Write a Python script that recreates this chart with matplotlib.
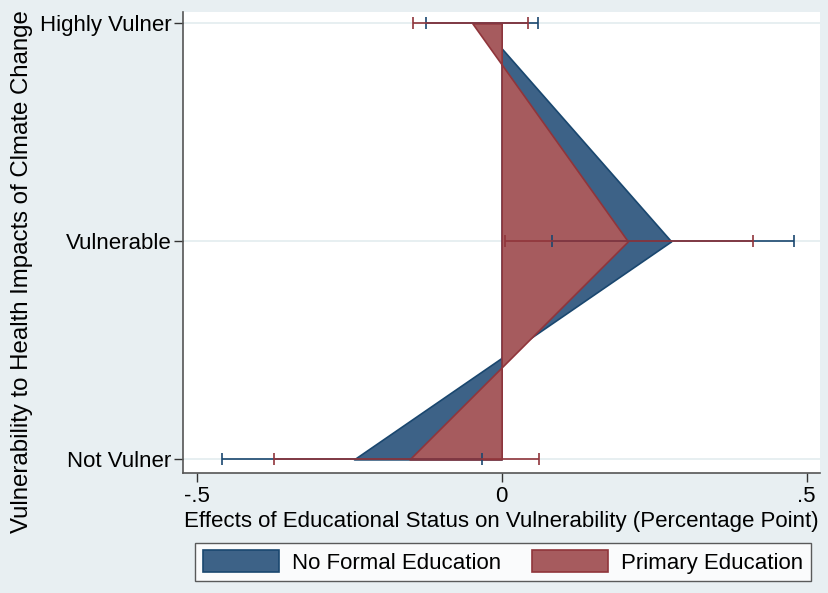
import matplotlib
matplotlib.use("Agg")
import matplotlib.pyplot as plt
from matplotlib.patches import Patch
import numpy as np

plt.rcParams['font.family'] = ['Liberation Sans', 'DejaVu Sans']

categories = ["Not Vulner", "Vulnerable", "Highly Vulner"]
xticks = [-0.5, 0, 0.5]
xticklabels = ["-.5", "0", ".5"]

nofe = [-0.242, 0.278, -0.036]
nofe_lo = [-0.458, 0.082, -0.124]
nofe_hi = [-0.033, 0.479, 0.060]

prim = [-0.151, 0.207, -0.048]
prim_lo = [-0.373, 0.005, -0.145]
prim_hi = [0.062, 0.413, 0.044]

series_names = ["No Formal Education", "Primary Education"]

bg = "#e8eff2"
blue_fill = "#3d6287"
blue_edge = "#1a476f"
red_fill = "#a65b5e"
red_edge = "#90353b"

fig = plt.figure(figsize=(8.29, 5.93), dpi=100, facecolor=bg)
ax = fig.add_axes([0.2211, 0.2029, 0.9891 - 0.2211, 0.9798 - 0.2029])
ax.set_facecolor("white")

y = np.arange(len(categories))

for yy in y:
    ax.axhline(yy, color="#e3ecef", lw=1.2, zorder=0)

ax.fill_betweenx(y, 0, nofe, facecolor=blue_fill, edgecolor=blue_edge, lw=1.2, zorder=2)
ax.fill_betweenx(y, 0, prim, facecolor=red_fill, edgecolor=red_edge, lw=1.2, zorder=3)

nofe = np.array(nofe); prim = np.array(prim)
ax.errorbar(nofe, y, xerr=[nofe - np.array(nofe_lo), np.array(nofe_hi) - nofe],
            fmt='none', ecolor=blue_edge, elinewidth=1.2, capsize=4.5, capthick=1.2, zorder=4)
ax.errorbar(prim, y, xerr=[prim - np.array(prim_lo), np.array(prim_hi) - prim],
            fmt='none', ecolor=red_edge, elinewidth=1.2, capsize=4.5, capthick=1.2, zorder=5)

ax.set_xlim(-0.522, 0.522)
ax.set_ylim(-0.061, 2.052)
ax.set_xticks(xticks)
ax.set_xticklabels(xticklabels, fontsize=16)
ax.set_yticks(y)
ax.set_yticklabels(categories, fontsize=16)
ax.tick_params(axis='both', color="#333333", length=6.5, width=1, pad=2)
ax.tick_params(axis='x', pad=3)

for s in ["top", "right"]:
    ax.spines[s].set_visible(False)
for s in ["left", "bottom"]:
    ax.spines[s].set_color("#555555")
    ax.spines[s].set_linewidth(1.2)

ax.set_xlabel("Effects of Educational Status on Vulnerability (Percentage Point)", fontsize=16,
              va="center")
ax.xaxis.set_label_coords(0.499, -0.106)
ax.set_ylabel("Vulnerability to Health Impacts of Clmate Change", fontsize=17.3, va="center")
ax.yaxis.set_label_coords(-0.2533, 0.436)

handles = [Patch(facecolor=blue_fill, edgecolor=blue_edge, lw=1.2),
           Patch(facecolor=red_fill, edgecolor=red_edge, lw=1.2)]
leg = fig.legend(handles, series_names, loc="center", bbox_to_anchor=(0.6068, 0.0523),
                 ncol=2, fontsize=16, frameon=True, fancybox=False, edgecolor="#333333",
                 handlelength=3.4, handleheight=1.1, columnspacing=1.4, handletextpad=0.6,
                 borderpad=0.35, borderaxespad=0)
leg.get_frame().set_linewidth(1.0)

fig.savefig("out.png", dpi=100, facecolor=bg)
